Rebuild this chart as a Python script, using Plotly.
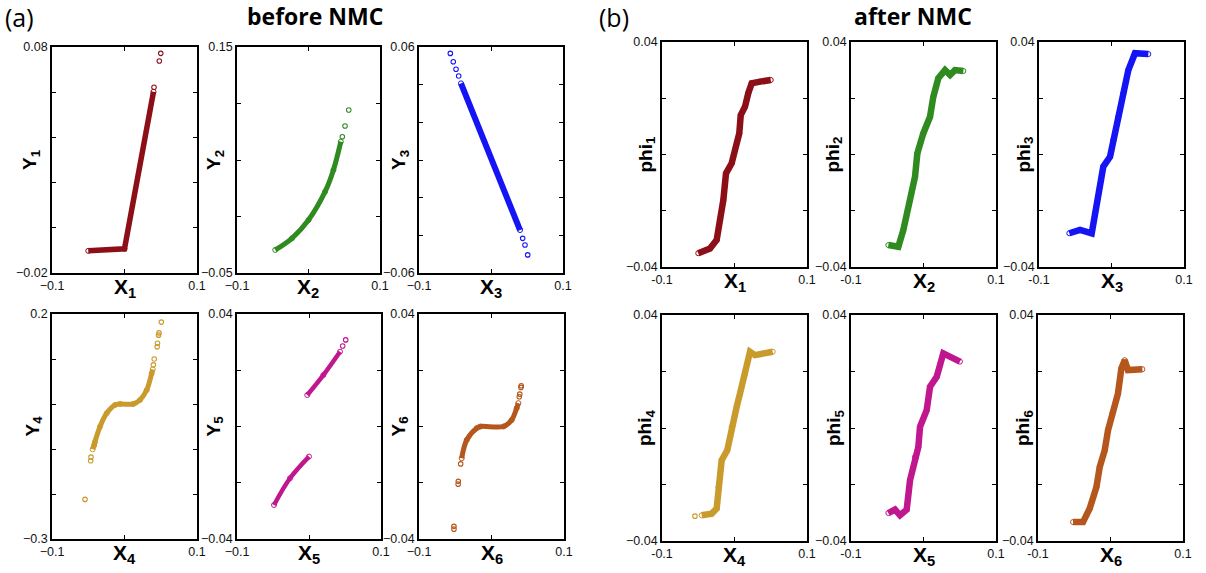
import plotly.graph_objects as go

# ---------------- data ----------------
# panel (a) "before NMC": Y_k vs X_k
a1_x = [-0.050, 0.000, 0.040]
a1_y = [-0.0102, -0.0093, 0.0602]
a1_ox = [0.0407, 0.048, 0.050]
a1_oy = [0.0622, 0.0738, 0.0772]

a2_x = [-0.0465, -0.0232, 0.000, 0.0232, 0.0349, 0.0452]
a2_y = [-0.0296, -0.0193, -0.0031, 0.0220, 0.0412, 0.0662]
a2_ox = [0.0473, 0.0511, 0.0563]
a2_oy = [0.0706, 0.0801, 0.0942]

a3_x = [-0.0417, 0.0403]
a3_y = [0.0407, -0.0372]
a3_ox = [-0.0565, -0.0524, -0.0486, -0.0449, 0.0440, 0.0472, 0.0510]
a3_oy = [0.0566, 0.0522, 0.0482, 0.0446, -0.0416, -0.0451, -0.0504]

a4_x = [-0.0439, -0.0338, -0.0246, -0.0131, -0.006, 0.012, 0.0214, 0.0306, 0.0375, 0.0389]
a4_y = [-0.1007, -0.0504, -0.0207, -0.0022, 0.000, 0.000, 0.0089, 0.031, 0.068, 0.077]
a4_ox = [-0.0407, -0.0418, -0.0462, -0.0466, -0.0545, 0.0398, 0.0410, 0.0450, 0.0455, 0.0470, 0.0476, 0.0508]
a4_oy = [-0.085, -0.092, -0.118, -0.126, -0.212, 0.087, 0.100, 0.127, 0.135, 0.153, 0.158, 0.182]

a5_x1 = [-0.0486, -0.0264, 0.000]
a5_y1 = [-0.0279, -0.0184, -0.0107]
a5_x2 = [-0.0024, 0.0199, 0.0431]
a5_y2 = [0.0112, 0.0183, 0.0266]
a5_ox = [0.0468, 0.0510]
a5_oy = [0.0286, 0.0308]

a6_x = [-0.0411, -0.0342, -0.0204, -0.0152, 0.0166, 0.0278, 0.0347, 0.0370]
a6_y = [-0.0113, -0.0048, -0.0006, 0.000, 0.000, 0.0023, 0.0065, 0.0083]
a6_ox = [-0.0425, -0.0458, -0.0460, -0.0518, -0.0518, 0.0383, 0.0390, 0.0406, 0.0410]
a6_oy = [-0.0133, -0.0195, -0.0205, -0.0355, -0.0365, 0.0106, 0.0115, 0.0139, 0.0145]

# panel (b) "after NMC": phi_k vs X_k
b1_x = [-0.050, -0.0338, -0.0246, -0.020, -0.0154, -0.0117, -0.0039, 0.0007, 0.0066, 0.0086, 0.0145, 0.019, 0.0237, 0.0352, 0.050]
b1_y = [-0.0351, -0.0334, -0.0304, -0.0233, -0.0162, -0.0067, -0.0031, 0.0016, 0.0075, 0.014, 0.017, 0.0218, 0.0253, 0.0259, 0.0265]

b2_x = [-0.0485, -0.0347, -0.0278, -0.0186, -0.0117, -0.0085, -0.0003, 0.009, 0.0135, 0.0204, 0.0297, 0.0366, 0.0434, 0.055]
b2_y = [-0.0322, -0.0328, -0.0268, -0.0162, -0.0079, 0.0004, 0.0075, 0.0134, 0.0205, 0.0271, 0.030, 0.0283, 0.030, 0.0297]

b3_x = [-0.0582, -0.0434, -0.0273, -0.0228, -0.0159, -0.0113, -0.002, 0.0025, 0.0094, 0.0163, 0.0232, 0.0324, 0.0508]
b3_y = [-0.028, -0.0268, -0.028, -0.0209, -0.0114, -0.0043, -0.0008, 0.0052, 0.0134, 0.0218, 0.030, 0.036, 0.0357]

b4_x = [-0.0452, -0.0314, -0.0246, -0.0223, -0.0177, -0.010, -0.0039, 0.003, 0.0076, 0.0145, 0.0214, 0.0283, 0.0527]
b4_y = [-0.0309, -0.0303, -0.0285, -0.0209, -0.0114, -0.0079, 0.0004, 0.0075, 0.0122, 0.0193, 0.027, 0.0258, 0.027]
b4_ox = [-0.0545]
b4_oy = [-0.0312]

b5_x = [-0.0485, -0.0393, -0.0324, -0.0232, -0.0186, -0.0117, -0.0071, -0.0048, 0.0044, 0.009, 0.0182, 0.0273, 0.0503]
b5_y = [-0.0301, -0.0289, -0.0309, -0.0289, -0.0185, -0.0102, -0.0067, 0.0004, 0.0063, 0.0146, 0.0181, 0.0264, 0.0235]

b6_x = [-0.0517, -0.0379, -0.0287, -0.0194, -0.0149, -0.008, -0.0034, 0.0026, 0.0103, 0.015, 0.0196, 0.0241, 0.044]
b6_y = [-0.0333, -0.0333, -0.0285, -0.0209, -0.0138, -0.0079, -0.0008, 0.0052, 0.0122, 0.0211, 0.024, 0.0205, 0.0208]

# axis ranges / tick steps
y_ranges = {1: (-0.02, 0.08, 0.02), 2: (-0.05, 0.15, 0.05), 3: (-0.06, 0.06, 0.02),
            4: (-0.3, 0.2, 0.1), 5: (-0.04, 0.04, 0.02), 6: (-0.04, 0.04, 0.02)}
y_ticktext = {1: ("\u22120.02", "0.08"), 2: ("\u22120.05", "0.15"), 3: ("\u22120.06", "0.06"),
              4: ("\u22120.3", "0.2"), 5: ("\u22120.04", "0.04"), 6: ("\u22120.04", "0.04")}
b_range = (-0.04, 0.04, 0.02)
b_ticktext = ("\u22120.04", "0.04")

colors = {1: "#8c0f18", 2: "#2f8a1f", 3: "#1414f5", 4: "#c99a2c", 5: "#c0178e", 6: "#b5561c"}

W, H = 1206, 573

# plot boxes in pixels (left, right, top, bottom)
boxes = {
    1: (52, 197, 47, 273), 2: (237, 380, 47, 273), 3: (419, 563, 47, 273),
    4: (52, 197, 314, 539), 5: (237, 381, 314, 539), 6: (419, 564, 314, 539),
    7: (662, 807, 42, 267), 8: (851, 996, 42, 267), 9: (1039, 1184, 42, 267),
    10: (662, 807, 315, 541), 11: (851, 996, 315, 541), 12: (1038, 1183, 315, 541),
}

fig = go.Figure()


def ax(i):
    return ("x" if i == 1 else f"x{i}"), ("y" if i == 1 else f"y{i}")


def band(i, xs, ys, color, width=5, shape="linear"):
    xa, ya = ax(i)
    fig.add_trace(go.Scatter(x=xs, y=ys, mode="lines+markers", xaxis=xa, yaxis=ya,
                             line=dict(color=color, width=width, shape=shape),
                             marker=dict(symbol="circle-open", size=5, color=color, line=dict(width=1)),
                             showlegend=False, hoverinfo="skip"))


def dots(i, xs, ys, color):
    xa, ya = ax(i)
    fig.add_trace(go.Scatter(x=xs, y=ys, mode="markers", xaxis=xa, yaxis=ya,
                             marker=dict(symbol="circle-open", size=4.5, color=color, line=dict(width=1.1)),
                             showlegend=False, hoverinfo="skip"))


band(1, a1_x, a1_y, colors[1], 5.5)
dots(1, a1_ox, a1_oy, colors[1])
band(2, a2_x, a2_y, colors[2], 5, "spline")
dots(2, a2_ox, a2_oy, colors[2])
band(3, a3_x, a3_y, colors[3], 6)
dots(3, a3_ox, a3_oy, colors[3])
band(4, a4_x, a4_y, colors[4], 5, "spline")
dots(4, a4_ox, a4_oy, colors[4])
band(5, a5_x1, a5_y1, colors[5], 4.5, "spline")
band(5, a5_x2, a5_y2, colors[5], 4.5, "spline")
dots(5, a5_ox, a5_oy, colors[5])
band(6, a6_x, a6_y, colors[6], 5, "spline")
dots(6, a6_ox, a6_oy, colors[6])

band(7, b1_x, b1_y, colors[1], 6.5)
band(8, b2_x, b2_y, colors[2], 6.5)
band(9, b3_x, b3_y, colors[3], 6.5)
band(10, b4_x, b4_y, colors[4], 6.5)
dots(10, b4_ox, b4_oy, colors[4])
band(11, b5_x, b5_y, colors[5], 6.5)
band(12, b6_x, b6_y, colors[6], 6.5)

tickfont = dict(family="Liberation Sans, Arial, sans-serif", size=12.5, color="#111")
layout = {}
for i in range(1, 13):
    l, r, t, b = boxes[i]
    if i <= 6:
        lo, hi, step = y_ranges[i]
        lo_t, hi_t = y_ticktext[i]
        xt = ["\u22120.1", "", "0.1"]
    else:
        lo, hi, step = b_range
        lo_t, hi_t = b_ticktext
        xt = ["-0.1", "", "0.1"]
    n = int(round((hi - lo) / step))
    yv = [lo + k * step for k in range(n + 1)]
    yt = [lo_t] + [""] * (n - 1) + [hi_t]
    common = dict(showline=True, linecolor="black", linewidth=1.6, mirror="ticks",
                  ticks="inside", ticklen=4, tickwidth=1, tickcolor="black", automargin=False,
                  showgrid=False, zeroline=False, tickfont=tickfont, fixedrange=True)
    xkey = "xaxis" if i == 1 else f"xaxis{i}"
    ykey = "yaxis" if i == 1 else f"yaxis{i}"
    xa, ya = ax(i)
    layout[xkey] = dict(domain=[l / W, r / W], range=[-0.1, 0.1], anchor=ya,
                        tickvals=[-0.1, 0, 0.1], ticktext=xt, **common)
    layout[ykey] = dict(domain=[1 - b / H, 1 - t / H], range=[lo, hi], anchor=xa,
                        tickvals=yv, ticktext=yt, **common)

fig.update_layout(**layout)

annots = []
bold = "Liberation Sans, Arial, sans-serif"
# x-axis titles
for i in range(1, 13):
    l, r, t, b = boxes[i]
    k = i if i <= 6 else i - 6
    annots.append(dict(text=f"<b>X<sub>{k}</sub></b>", x=(l + r) / 2 / W, y=1 - (b + 15) / H,
                       xref="paper", yref="paper", xanchor="center", yanchor="middle",
                       showarrow=False, font=dict(family=bold, size=21, color="black")))
# y-axis titles
ypos = {1: 31, 2: 215, 3: 400, 4: 33, 5: 214, 6: 399, 7: 646, 8: 833, 9: 1024, 10: 646, 11: 835, 12: 1024}
for i in range(1, 13):
    l, r, t, b = boxes[i]
    k = i if i <= 6 else i - 6
    name = "Y" if i <= 6 else "phi"
    annots.append(dict(text=f"<b>{name}<sub>{k}</sub></b>", x=ypos[i] / W, y=1 - (t + b) / 2 / H,
                       xref="paper", yref="paper", xanchor="center", yanchor="middle", textangle=-90,
                       showarrow=False, font=dict(family=bold, size=19, color="black")))
# panel labels and titles
annots += [
    dict(text="(a)", x=3 / W, y=1 - 17 / H, xanchor="left", yanchor="middle",
         font=dict(family="Open Sans, sans-serif", size=25, color="black")),
    dict(text="<b>before NMC</b>", x=315 / W, y=1 - 16 / H, xanchor="center", yanchor="middle",
         font=dict(family="Open Sans, sans-serif", size=23, color="black")),
    dict(text="(b)", x=597 / W, y=1 - 17 / H, xanchor="left", yanchor="middle",
         font=dict(family="Open Sans, sans-serif", size=25, color="black")),
    dict(text="<b>after NMC</b>", x=913 / W, y=1 - 16 / H, xanchor="center", yanchor="middle",
         font=dict(family="Open Sans, sans-serif", size=23, color="black")),
]
for a in annots[-4:]:
    a.update(xref="paper", yref="paper", showarrow=False)

fig.update_layout(annotations=annots, width=W, height=H,
                  margin=dict(l=0, r=0, t=0, b=0),
                  paper_bgcolor="white", plot_bgcolor="white", showlegend=False)

fig.write_html("out.html", config={"displayModeBar": False},
               post_script="document.body.style.margin='0';document.body.style.overflow='hidden';")
